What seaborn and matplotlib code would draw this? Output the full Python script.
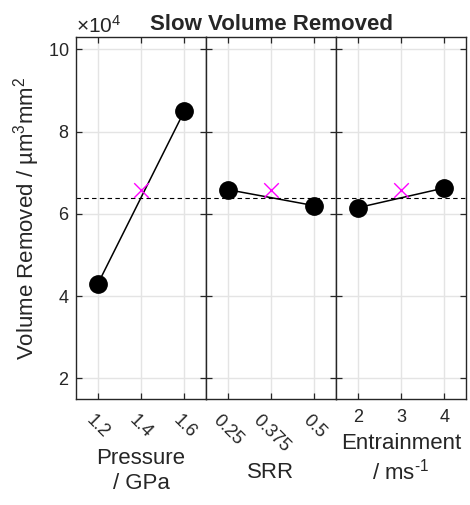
import numpy as np
import pandas as pd
import matplotlib
matplotlib.use("Agg")
import matplotlib.pyplot as plt
from matplotlib.ticker import ScalarFormatter
import seaborn as sns

# Factor levels (low / centre / high) and slow volume removed at the low and high levels
pressure_levels = [1.2, 1.4, 1.6]
pressure_tick_labels = ["1.2", "1.4", "1.6"]
pressure_volume = [4.29e4, 8.50e4]

srr_levels = [0.25, 0.375, 0.5]
srr_tick_labels = ["0.25", "0.375", "0.5"]
srr_volume = [6.59e4, 6.20e4]

entrainment_levels = [2, 3, 4]
entrainment_tick_labels = ["2", "3", "4"]
entrainment_volume = [6.15e4, 6.63e4]

# Centre-point run and grand mean of the factorial runs
centre_point_volume = 6.58e4
grand_mean_volume = 6.39e4

y_ticks = [2e4, 4e4, 6e4, 8e4, 10e4]
y_limits = (1.5e4, 10.3e4)

panels = [
    (pressure_levels, pressure_tick_labels, pressure_volume, "Pressure\n/ GPa", True),
    (srr_levels, srr_tick_labels, srr_volume, "SRR", True),
    (entrainment_levels, entrainment_tick_labels, entrainment_volume,
     "Entrainment\n/ ms$^{\\text{-}1}$", False),
]

sns.set_theme(style="ticks")
plt.rcParams["font.family"] = ["Liberation Sans", "DejaVu Sans"]
plt.rcParams["mathtext.fontset"] = "custom"
plt.rcParams["mathtext.rm"] = "Liberation Sans"
plt.rcParams["mathtext.it"] = "Liberation Sans:italic"

fig, axes = plt.subplots(1, 3, figsize=(4.70, 5.05), dpi=100, sharey=True)
fig.subplots_adjust(left=0.1617, right=0.9915, bottom=0.2099, top=0.9267, wspace=0)

edge = "#262626"

for i, (ax, (levels, tick_labels, volume, xlabel, rotate)) in enumerate(zip(axes, panels)):
    ends = pd.DataFrame({"level": [levels[0], levels[-1]], "volume": volume})
    centre = pd.DataFrame({"level": [levels[1]], "volume": [centre_point_volume]})

    ax.axhline(grand_mean_volume, color="black", lw=0.8, ls=(0, (4, 3)), zorder=2)
    sns.lineplot(data=ends, x="level", y="volume", color="black", lw=1.1, ax=ax, zorder=3)
    sns.scatterplot(data=ends, x="level", y="volume", color="black", edgecolor="black",
                    s=156, ax=ax, zorder=4)
    sns.scatterplot(data=centre, x="level", y="volume", color="#ff00ff", marker="x",
                    s=110, linewidth=1.0, ax=ax, zorder=4)

    step = levels[1] - levels[0]
    ax.set_xlim(levels[0] - step / 2, levels[-1] + step / 2)
    ax.set_ylim(*y_limits)
    ax.set_xticks(levels)
    ax.set_xticklabels(tick_labels)
    ax.set_yticks(y_ticks)

    ax.grid(True, color="#e4e4e4", lw=1.0)
    ax.set_axisbelow(True)
    for spine in ax.spines.values():
        spine.set_visible(True)
        spine.set_color(edge)
        spine.set_linewidth(1.0)

    ax.tick_params(axis="both", direction="in", length=4, width=0.9, colors=edge,
                   labelcolor=edge, labelsize=13, top=True, right=True, left=True,
                   bottom=True, pad=5)
    ax.tick_params(axis="x", pad=9 if rotate else 7)
    if rotate:
        for lab in ax.get_xticklabels():
            lab.set_rotation(-45)
            lab.set_ha("center")
            lab.set_va("top")

    ax.set_xlabel(xlabel, fontsize=16, color=edge, linespacing=1.25, labelpad=5)
    if i == 0:
        ax.set_ylabel("Volume Removed / µm$^3$mm$^2$", fontsize=16, color=edge, labelpad=4)
        fmt = ScalarFormatter(useMathText=True)
        fmt.set_powerlimits((4, 4))
        ax.yaxis.set_major_formatter(fmt)
        ax.yaxis.get_offset_text().set_fontsize(15)
        ax.yaxis.get_offset_text().set_color(edge)
    else:
        ax.set_ylabel("")
        ax.tick_params(axis="y", labelleft=False)
        ax.yaxis.get_offset_text().set_visible(False)

axes[1].set_title("Slow Volume Removed", fontsize=16, fontweight="bold", pad=5)

fig.savefig("out.png", dpi=100)
